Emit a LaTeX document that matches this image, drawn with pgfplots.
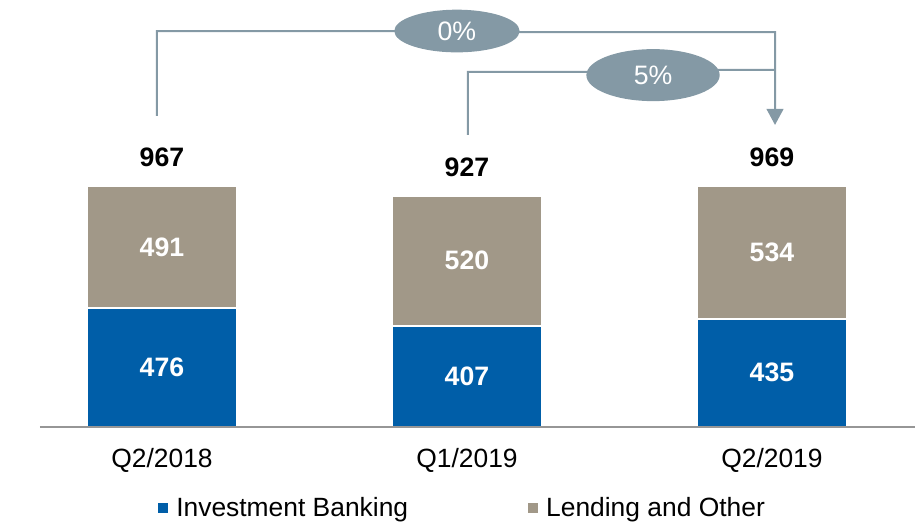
\documentclass[border=0pt]{standalone}
\usepackage{fontspec}
\setmainfont{Liberation Sans}
\usepackage{pgfplots}
\pgfplotsset{compat=1.18}
\usetikzlibrary{arrows.meta,shapes.geometric}
\definecolor{ibblue}{RGB}{0,94,168}
\definecolor{lgray}{RGB}{161,152,136}
\definecolor{arr}{RGB}{132,153,165}
\definecolor{axgray}{RGB}{150,150,150}
\begin{document}
\begin{tikzpicture}
\useasboundingbox (0,0) rectangle (686.25pt,393pt);
\begin{axis}[
  at={(30pt,72.75pt)}, anchor=south west,
  scale only axis, width=656.25pt, height=320.25pt,
  xmin=-0.4, xmax=2.469, ymin=0, ymax=1713.5,
  ybar stacked, bar width=0.49,
  axis x line*=bottom, axis y line=none,
  x axis line style={draw=axgray, line width=2pt},
  xtick={0,1,2}, xticklabels={Q2/2018,Q1/2019,Q2/2019},
  major tick length=0pt,
  xticklabel style={font=\fontsize{19.8}{22}\selectfont, yshift=-12.5pt},
  clip=false, axis on top,
  legend image code/.code={\fill[#1,draw=none] (0pt,-3.75pt) rectangle (7.5pt,3.75pt);},
  legend style={at={(0.1349,-0.19)}, anchor=west, draw=none, fill=none,
    inner sep=0pt, font=\fontsize{19.8}{22}\selectfont,
    legend columns=2,
    /tikz/every odd column/.append style={column sep=4pt},
    /tikz/every even column/.append style={column sep=88pt}},
  legend cell align=left,
]
\addplot[fill=ibblue, draw=white, line width=1.5pt] coordinates {(0,476) (1,407) (2,435)};
\addplot[fill=lgray, draw=white, line width=1.5pt] coordinates {(0,491) (1,520) (2,534)};
\legend{Investment Banking, Lending and Other}
\end{axis}
\begin{axis}[
  at={(30pt,72.75pt)}, anchor=south west,
  scale only axis, width=656.25pt, height=320.25pt,
  xmin=-0.4, xmax=2.469, ymin=0, ymax=1713.5,
  hide axis, clip=false,
]
% segment labels
\addplot[draw=none, mark=none, nodes near coords, point meta=explicit symbolic,
  every node near coord/.append style={anchor=center, text=white,
    font=\fontsize{20}{22}\selectfont\bfseries}]
  coordinates {(0,238)[476] (1,203.5)[407] (2,217.5)[435]
               (0,721.5)[491] (1,667)[520] (2,702)[534]};
% totals
\addplot[draw=none, mark=none, nodes near coords, point meta=explicit symbolic,
  every node near coord/.append style={anchor=south, inner sep=0pt, yshift=14pt, text=black,
    font=\fontsize{20}{22}\selectfont\bfseries}]
  coordinates {(0,967)[967] (1,927)[927] (2,969)[969]};
% growth brackets
\draw[arr, line width=1.5pt, -{Triangle[width=12.5pt,length=12pt]}]
  (axis cs:-0.0164,1248) -- (axis cs:-0.0164,1589) -- (axis cs:0.9,1589) -- (axis cs:1.0,1585) -- (axis cs:2.01,1585) -- (axis cs:2.01,1212);
\draw[arr, line width=1.5pt]
  (axis cs:1.003,1172) -- (axis cs:1.003,1425) -- (axis cs:1.6,1425) -- (axis cs:1.65,1433) -- (axis cs:2.01,1433);
\node[ellipse, fill=arr, minimum width=94pt, minimum height=32pt, inner sep=0pt,
  text=white, font=\fontsize{20}{22}\selectfont] at (axis cs:0.967,1589) {0\%};
\node[ellipse, fill=arr, minimum width=100pt, minimum height=39pt, inner sep=0pt,
  text=white, font=\fontsize{20}{22}\selectfont] at (axis cs:1.610,1412) {5\%};
\end{axis}
\end{tikzpicture}
\end{document}
